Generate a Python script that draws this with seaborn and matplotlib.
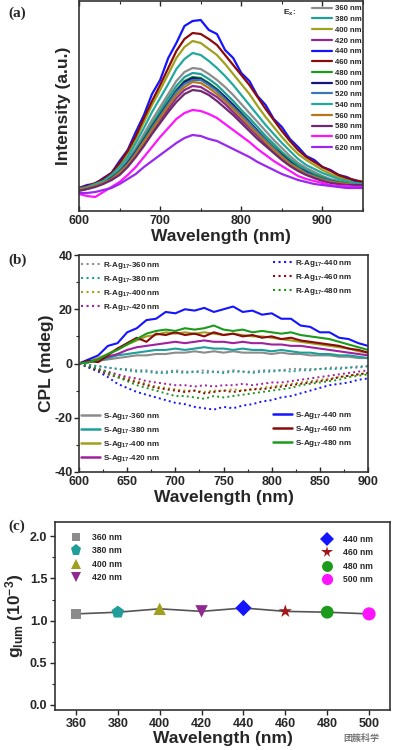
import matplotlib
matplotlib.use("Agg")
import numpy as np
import matplotlib.pyplot as plt
import seaborn as sns
from matplotlib.ticker import MultipleLocator, NullLocator, FormatStrFormatter
from matplotlib.lines import Line2D

# ─────────────────────────────────────────────
# DATA
# ─────────────────────────────────────────────

# (a) PL spectra, 600-950 nm every 10 nm, intensity in arbitrary units
pl_wl = list(range(600, 951, 10))
pl_labels = ["360 nm", "380 nm", "400 nm", "420 nm", "440 nm", "460 nm", "480 nm",
             "500 nm", "520 nm", "540 nm", "560 nm", "580 nm", "600 nm", "620 nm"]
pl_colors = ["#8c8c8c", "#1f9e9a", "#a0a01e", "#8e2a8e", "#1414ff", "#8b0a0a", "#1c9a1c",
             "#14147e", "#3a78b4", "#22a8a0", "#b5761c", "#6e2a6e", "#ff14ff", "#9a28f0"]
pl_360 = [22, 24, 26, 29, 34, 41, 51, 63, 77, 91, 104, 117, 130, 139, 143, 142, 137, 131,
          124, 116, 107, 98, 89, 80, 71, 63, 55, 48, 43, 39, 35, 32, 30, 28, 27, 27]
pl_380 = [21, 23, 26, 29, 33, 40, 49, 61, 74, 87, 100, 113, 125, 134, 138, 137, 132, 126,
          118, 110, 101, 93, 84, 75, 67, 59, 52, 46, 41, 37, 34, 31, 29, 28, 27, 27]
pl_400 = [22, 24, 27, 31, 37, 46, 57, 72, 89, 106, 121, 137, 153, 164, 170, 168, 162, 156,
          147, 137, 127, 117, 105, 94, 84, 74, 65, 57, 51, 46, 41, 37, 34, 31, 29, 28]
pl_420 = [21, 23, 25, 28, 31, 37, 45, 55, 67, 79, 91, 102, 113, 121, 125, 124, 119, 114,
          107, 99, 91, 83, 75, 67, 60, 53, 46, 41, 37, 33, 31, 29, 27, 26, 26, 26]
pl_440 = [23, 26, 27, 33, 38, 50, 61, 79, 96, 117, 131, 153, 168, 185, 190, 191, 181, 177,
          161, 153, 138, 130, 115, 106, 92, 84, 72, 64, 55, 51, 44, 41, 36, 34, 30, 29]
pl_460 = [23, 25, 28, 32, 38, 48, 60, 75, 93, 110, 126, 143, 160, 172, 178, 177, 172, 166,
          156, 146, 136, 126, 114, 102, 91, 80, 70, 61, 54, 49, 44, 40, 36, 33, 31, 29]
pl_480 = [21, 23, 26, 28, 33, 40, 48, 59, 72, 85, 97, 109, 121, 130, 134, 133, 128, 122,
          114, 106, 98, 89, 80, 72, 64, 57, 50, 44, 39, 36, 33, 30, 29, 28, 27, 27]
pl_500 = [21, 22, 25, 29, 33, 39, 48, 59, 71, 84, 96, 108, 120, 129, 133, 132, 127, 121,
          114, 106, 97, 89, 80, 71, 63, 56, 49, 43, 39, 35, 32, 30, 28, 27, 27, 27]
pl_520 = [22, 23, 25, 28, 32, 39, 47, 58, 70, 83, 95, 107, 119, 127, 131, 131, 126, 120,
          112, 104, 96, 88, 79, 71, 63, 55, 48, 43, 38, 35, 32, 30, 28, 27, 27, 27]
pl_540 = [22, 24, 27, 30, 36, 44, 54, 68, 83, 99, 113, 127, 142, 152, 158, 156, 150, 143,
          135, 126, 116, 106, 96, 86, 77, 68, 60, 52, 46, 42, 38, 35, 32, 30, 28, 27]
pl_560 = [21, 23, 25, 28, 32, 38, 46, 57, 69, 81, 93, 105, 116, 124, 129, 128, 123, 117,
          110, 102, 94, 85, 77, 69, 61, 54, 47, 42, 37, 34, 31, 29, 28, 27, 26, 26]
pl_580 = [20, 22, 24, 27, 31, 36, 44, 54, 65, 77, 88, 99, 109, 117, 121, 120, 116, 110,
          103, 96, 88, 80, 72, 65, 58, 51, 45, 40, 36, 33, 30, 28, 27, 26, 26, 26]
pl_600 = [17, 15, 14, 19, 24, 29, 36, 44, 54, 64, 74, 83, 92, 98, 101, 100, 97, 93,
          87, 81, 75, 69, 62, 56, 50, 45, 40, 35, 32, 30, 28, 26, 25, 25, 24, 24]
pl_620 = [18, 18, 19, 21, 23, 27, 32, 37, 44, 50, 56, 62, 68, 73, 76, 75, 72, 70,
          66, 62, 58, 54, 49, 45, 41, 37, 34, 31, 29, 27, 26, 25, 24, 23, 23, 23]
pl_series = [pl_360, pl_380, pl_400, pl_420, pl_440, pl_460, pl_480,
             pl_500, pl_520, pl_540, pl_560, pl_580, pl_600, pl_620]

# (b) CPL spectra, 600-900 nm every 10 nm, mdeg
cpl_wl = list(range(600, 901, 10))
cpl_exc = ["360", "380", "400", "420", "440", "460", "480"]
cpl_colors = ["#8c8c8c", "#1f9e9a", "#a0a01e", "#a020a0", "#1414ff", "#8b0a0a", "#1c9a1c"]
s_360 = [0, 0.5, 1, 1.5, 2, 2.5, 3, 3, 3.5, 3.5, 4, 4, 4.5, 4, 4.5, 4, 4.5, 4, 4, 4, 3.5,
         4, 3.5, 3.5, 3, 3, 3, 2.5, 2.5, 2, 2]
s_380 = [0, 0.5, 1, 2, 3, 3.5, 4, 4.5, 5, 5, 5.5, 5, 5.5, 6, 5.5, 5.5, 5, 5.5, 5, 5, 4.5,
         5, 4.5, 4, 4, 3.5, 3.5, 3, 3, 2.5, 2]
s_400 = [0, 1, 2, 3.5, 5.5, 7, 8.5, 10, 10.5, 11.5, 11, 11.5, 11, 11.5, 11, 10.5, 11, 10.5,
         10, 10, 9.5, 9, 8.5, 8, 7.5, 7, 6.5, 6, 5.5, 4.5, 4]
s_420 = [0, 0.5, 1.5, 2.5, 3.5, 5, 6, 6.5, 7, 7.5, 8, 7.5, 8, 8.5, 8, 8, 7.5, 8, 7.5, 7.5,
         7, 7, 6.5, 6.5, 6, 5.5, 5, 4.5, 4, 3.5, 3]
s_440 = [0, 1.5, 3, 6.5, 7.5, 11.5, 13, 16, 16.5, 19, 18.5, 20, 19.5, 20.5, 19, 20, 21, 19,
         19.5, 18, 18.5, 16.5, 16.5, 14, 13.5, 11.5, 11.5, 9.5, 9, 7.5, 6.5]
s_460 = [0, 1, 0.5, 3, 5.5, 7.5, 9.5, 8, 11, 10.5, 11.5, 10.5, 11, 10, 11.5, 10.5, 11, 10,
         10.5, 9.5, 10, 9, 9.5, 8.5, 8, 7.5, 7, 6.5, 5.5, 5, 4]
s_480 = [0, 0.5, 1.5, 3.5, 5, 7, 9, 11, 12, 12.5, 12, 13, 12.5, 13, 14, 12.5, 12, 12.5,
         11.5, 12, 11.5, 11, 11.5, 10.5, 10, 9.5, 9, 8, 7, 6, 5]
r_360 = [0, -0.5, -1, -1.5, -2, -2, -2.5, -2.5, -3, -3, -2.5, -3, -3, -2.5, -3, -3, -2.5,
         -3, -3, -2.5, -2.5, -2.5, -2, -2, -2, -2, -1.5, -1.5, -1.5, -1, -1]
r_380 = [0, -0.5, -1, -1.5, -2, -2.5, -3, -3, -3.5, -3.5, -3, -3.5, -3, -3.5, -3, -3.5, -3,
         -3, -3.5, -3, -3, -2.5, -3, -2.5, -2.5, -2, -2, -2, -1.5, -1.5, -1]
r_400 = [0, -1, -2, -3.5, -4.5, -5.5, -6.5, -7.5, -8.5, -9, -9.5, -10, -10, -10.5, -10, -10,
         -9.5, -10, -9.5, -9, -8.5, -8, -7.5, -7, -6.5, -6, -5.5, -5, -4.5, -4, -3.5]
r_420 = [0, -1, -2, -3, -4, -5, -5.5, -6.5, -7, -7.5, -8, -8, -8.5, -8, -8.5, -8, -8, -7.5,
         -8, -7.5, -7, -7, -6.5, -6, -5.5, -5, -4.5, -4, -3.5, -3, -2.5]
r_440 = [0, -1.5, -3, -5, -7.5, -9, -10.5, -11.5, -12.5, -13.5, -14.5, -15, -16, -16.5, -17,
         -16, -16.5, -15.5, -15, -14, -13.5, -12.5, -12, -11, -10, -9, -8, -7.5, -7, -6, -5.5]
r_460 = [0, -1, -2.5, -4, -5, -6, -7, -8, -9, -9.5, -10, -10.5, -10, -11, -10.5, -10, -10.5,
         -10, -9.5, -9.5, -9, -8.5, -8, -7.5, -7, -6.5, -6, -5, -4.5, -4, -3.5]
r_480 = [0, -1, -2, -3.5, -5, -6.5, -8, -9, -10, -11, -12, -12, -12.5, -13, -12, -12.5, -12,
         -11.5, -11, -10.5, -10, -9.5, -9, -8, -7.5, -7, -6.5, -6, -5, -4.5, -4]
s_series = [s_360, s_380, s_400, s_420, s_440, s_460, s_480]
r_series = [r_360, r_380, r_400, r_420, r_440, r_460, r_480]

# (c) luminescence dissymmetry factor
g_wl = [360, 380, 400, 420, 440, 460, 480, 500]
g_lum = [1.08, 1.10, 1.14, 1.11, 1.15, 1.11, 1.10, 1.08]
g_markers = ["s", "p", "^", "v", "D", "*", "o", "o"]
g_colors = ["#8c8c8c", "#1f9e9a", "#a0a01e", "#8e2a8e", "#1414ff", "#a01818", "#1c9a1c", "#ff14ff"]
g_sizes = [55, 90, 80, 80, 70, 100, 85, 90]

# ─────────────────────────────────────────────
# STYLE
# ─────────────────────────────────────────────
sns.set_theme(style="ticks")
plt.rcParams["font.family"] = ["Liberation Sans", "DejaVu Sans"]
plt.rcParams["font.weight"] = "bold"
plt.rcParams["mathtext.fontset"] = "custom"
plt.rcParams["mathtext.rm"] = "Liberation Sans:bold"
plt.rcParams["mathtext.bf"] = "Liberation Sans:bold"
plt.rcParams["mathtext.it"] = "Liberation Sans:bold"
plt.rcParams["mathtext.default"] = "bf"
plt.rcParams["axes.unicode_minus"] = False
plt.rcParams["axes.linewidth"] = 1.2
plt.rcParams["axes.edgecolor"] = "#333333"

fig = plt.figure(figsize=(3.93, 7.5), dpi=100)
W, H = 393.0, 750.0


def px_axes(l, t, r, b):
    return fig.add_axes([l / W, 1 - b / H, (r - l) / W, (b - t) / H])


def style_ticks(ax, size=8.5):
    for lab in ax.get_xticklabels() + ax.get_yticklabels():
        lab.set_fontweight("bold")
        lab.set_fontsize(size)


label_kw = dict(fontsize=12.5, fontweight="bold")
panel_kw = dict(fontsize=11, fontweight="bold", family=["Liberation Serif", "DejaVu Serif"])

# ── (a) PL ───────────────────────────────────────────────────────────
ax_a = px_axes(79, 1, 363, 211)
for vals, col in zip(pl_series, pl_colors):
    sns.lineplot(x=pl_wl, y=vals, color=col, lw=1.6, ax=ax_a)
ax_a.set_xlim(600, 950)
ax_a.set_ylim(0, 210)
ax_a.xaxis.set_major_locator(MultipleLocator(100))
ax_a.xaxis.set_minor_locator(MultipleLocator(50))
ax_a.yaxis.set_major_locator(NullLocator())
ax_a.tick_params(axis="x", which="both", direction="in", top=True, pad=3)
ax_a.tick_params(axis="x", which="major", length=3.5, width=1)
ax_a.tick_params(axis="x", which="minor", length=2, width=0.8)
ax_a.set_xlabel("Wavelength (nm)", labelpad=1, **label_kw)
ax_a.set_ylabel("Intensity (a.u.)", labelpad=6, **label_kw)
style_ticks(ax_a, 9)
handles_a = [Line2D([], [], color=c, lw=1.6) for c in pl_colors]
ax_a.legend(handles_a, pl_labels, loc="upper right", bbox_to_anchor=(362 / W, 1 - 5 / H),
            bbox_transform=fig.transFigure, frameon=False, borderaxespad=0, borderpad=0,
            prop={"size": 5.6, "weight": "bold"}, handlelength=2.6, handletextpad=0.4,
            labelspacing=0.42)
fig.text(283 / W, 1 - 13 / H, "E$_x$:", fontsize=6, fontweight="bold", va="center")
fig.text(8 / W, 1 - 13 / H, "(a)", va="center", **panel_kw)

# ── (b) CPL ──────────────────────────────────────────────────────────
ax_b = px_axes(79, 255, 368, 472)
for vals, col in zip(s_series, cpl_colors):
    sns.lineplot(x=cpl_wl, y=vals, color=col, lw=1.5, ax=ax_b)
for vals, col in zip(r_series, cpl_colors):
    sns.lineplot(x=cpl_wl, y=vals, color=col, lw=1.4, linestyle=":", ax=ax_b)
ax_b.set_xlim(600, 900)
ax_b.set_ylim(-40, 40)
ax_b.xaxis.set_major_locator(MultipleLocator(50))
ax_b.xaxis.set_minor_locator(MultipleLocator(25))
ax_b.yaxis.set_major_locator(MultipleLocator(20))
ax_b.yaxis.set_minor_locator(MultipleLocator(10))
ax_b.tick_params(axis="x", which="both", direction="in", pad=3)
ax_b.tick_params(axis="y", which="both", direction="out", pad=1)
ax_b.tick_params(which="major", length=3.5, width=1)
ax_b.tick_params(which="minor", length=2, width=0.8)
ax_b.set_xlabel("Wavelength (nm)", labelpad=1, **label_kw)
ax_b.set_ylabel("CPL (mdeg)", labelpad=0, **label_kw)
style_ticks(ax_b, 9)

leg_kw = dict(bbox_transform=fig.transFigure, frameon=False, borderaxespad=0, borderpad=0,
              prop={"size": 5.8, "weight": "bold"}, handlelength=2.4, handletextpad=0.3,
              labelspacing=0.38)
r_handles = [Line2D([], [], color=c, lw=1.5, linestyle=":") for c in cpl_colors]
s_handles = [Line2D([], [], color=c, lw=1.8) for c in cpl_colors]
r_names = ["R-Ag$_{17}$-%s nm" % e for e in cpl_exc]
s_names = ["S-Ag$_{17}$-%s nm" % e for e in cpl_exc]
legs = [
    ax_b.legend(r_handles[:4], r_names[:4], loc="upper left",
                bbox_to_anchor=(81 / W, 1 - 260 / H), **leg_kw),
    ax_b.legend(r_handles[4:], r_names[4:], loc="upper left",
                bbox_to_anchor=(273 / W, 1 - 258 / H), **leg_kw),
    ax_b.legend(s_handles[:4], s_names[:4], loc="upper left",
                bbox_to_anchor=(81 / W, 1 - 411 / H), **leg_kw),
    ax_b.legend(s_handles[4:], s_names[4:], loc="upper left",
                bbox_to_anchor=(273 / W, 1 - 410 / H), **leg_kw),
]
for lg in legs[:-1]:
    ax_b.add_artist(lg)
fig.text(8 / W, 1 - 260 / H, "(b)", va="center", **panel_kw)

# ── (c) g_lum ────────────────────────────────────────────────────────
ax_c = px_axes(55, 522, 390, 710)
sns.lineplot(x=g_wl, y=g_lum, color="#555555", lw=1.2, ax=ax_c)
for w, g, m, c, s in zip(g_wl, g_lum, g_markers, g_colors, g_sizes):
    sns.scatterplot(x=[w], y=[g], marker=m, color=c, s=s, edgecolor="none", ax=ax_c, zorder=3)
ax_c.set_xlim(350, 510)
ax_c.set_ylim(-0.06, 2.17)
ax_c.xaxis.set_major_locator(MultipleLocator(20))
ax_c.yaxis.set_major_locator(MultipleLocator(0.5))
ax_c.yaxis.set_minor_locator(MultipleLocator(0.25))
ax_c.tick_params(which="both", direction="out", pad=2)
ax_c.tick_params(which="major", length=3.5, width=1)
ax_c.tick_params(which="minor", length=2, width=0.8)
ax_c.yaxis.set_major_formatter(FormatStrFormatter("%.1f"))
ax_c.set_xlabel("Wavelength (nm)", labelpad=1, **label_kw)
ax_c.set_ylabel("g$_{lum}$ (10$^{-3}$)", labelpad=3, **label_kw)
style_ticks(ax_c, 9)

g_handles = [Line2D([], [], marker=m, color=c, linestyle="none", markersize=np.sqrt(s) * 0.85,
                    markeredgewidth=0) for m, c, s in zip(g_markers, g_colors, g_sizes)]
g_names = ["%d nm" % w for w in g_wl]
gleg_kw = dict(bbox_transform=fig.transFigure, frameon=False, borderaxespad=0, borderpad=0,
               prop={"size": 6.2, "weight": "bold"}, handlelength=1.2, handletextpad=1.2,
               labelspacing=0.5)
lg1 = ax_c.legend(g_handles[:4], g_names[:4], loc="upper left",
                  bbox_to_anchor=(71 / W, 1 - 533 / H), **gleg_kw)
ax_c.add_artist(lg1)
ax_c.legend(g_handles[4:], g_names[4:], loc="upper left",
            bbox_to_anchor=(322 / W, 1 - 535 / H), **gleg_kw)
fig.text(8 / W, 1 - 526 / H, "(c)", va="center", **panel_kw)

# watermark
fig.text(343 / W, 1 - 738 / H, "团簇科学", fontsize=6.5, color="#777777", ha="left", va="center",
         family=["Noto Sans CJK SC", "DejaVu Sans"])

fig.savefig("out.png", dpi=100)
